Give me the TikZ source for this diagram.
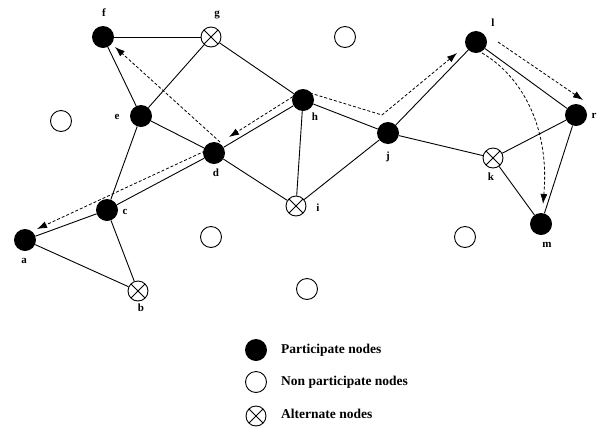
\documentclass[tikz,border=0pt]{standalone}
\usepackage{fontspec}
\setmainfont{Liberation Serif}
\usetikzlibrary{arrows.meta}
\begin{document}
\begin{tikzpicture}[x=1pt,y=-1pt,
  part/.style={circle,fill=black,minimum size=22pt,inner sep=0pt},
  nonpart/.style={circle,draw,line width=0.9pt,minimum size=21pt,inner sep=0pt},
  alt/.style={circle,draw,line width=0.9pt,minimum size=20pt,inner sep=0pt,
    path picture={\draw[line width=0.9pt] (path picture bounding box.north west) -- (path picture bounding box.south east)
      (path picture bounding box.north east) -- (path picture bounding box.south west);}},
  lbl/.style={font=\bfseries\fontsize{11}{13}\selectfont,inner sep=0pt},
  leg/.style={font=\bfseries\fontsize{13.5}{15}\selectfont,anchor=west,inner sep=0pt},
  edge/.style={line width=0.9pt},
  route/.style={densely dashed,line width=0.8pt,-{Latex[length=10pt,width=7pt]}}]
\useasboundingbox (0,0) rectangle (597,429);
% nodes
\node[part] (f) at (103,37) {};
\node[alt] (g) at (211,37) {};
\node[part] (e) at (141,116) {};
\node[part] (d) at (214,153) {};
\node[part] (h) at (303,100) {};
\node[part] (j) at (388,133) {};
\node[alt] (i) at (296,206) {};
\node[part] (c) at (107,210) {};
\node[part] (a) at (25,240) {};
\node[alt] (b) at (138,291) {};
\node[part] (l) at (476,42) {};
\node[part] (r) at (576,115) {};
\node[alt] (k) at (493,158) {};
\node[part] (m) at (541,224) {};
% non participate
\node[nonpart] (n1) at (345,37) {};
\node[nonpart] (n2) at (61,121) {};
\node[nonpart] (n3) at (211,237) {};
\node[nonpart] (n4) at (307,289) {};
\node[nonpart] (n5) at (465,237) {};
% labels
\node[lbl] (lf) at (104,13) {f};
\node[lbl] (lg) at (217,15) {g};
\node[lbl] (le) at (117,117) {e};
\node[lbl] (ld) at (216,173) {d};
\node[lbl] (lh) at (315,117) {h};
\node[lbl] (lj) at (388,157) {j};
\node[lbl] (ll) at (493,23) {l};
\node[lbl] (lr) at (594,116) {r};
\node[lbl] (lk) at (491,177) {k};
\node[lbl] (lm) at (547,245) {m};
\node[lbl] (li) at (318,208) {i};
\node[lbl] (lc) at (125,212) {c};
\node[lbl] (la) at (24,261) {a};
\node[lbl] (lb) at (141,308) {b};
% edges
\draw[edge] (f) -- (g);
\draw[edge] (f) -- (e);
\draw[edge] (g) -- (e);
\draw[edge] (g) -- (h);
\draw[edge] (e) -- (d);
\draw[edge] (e) -- (c);
\draw[edge] (d) -- (h);
\draw[edge] (d) -- (i);
\draw[edge] (d) -- (c);
\draw[edge] (h) -- (i);
\draw[edge] (h) -- (j);
\draw[edge] (i) -- (j);
\draw[edge] (c) -- (a);
\draw[edge] (c) -- (b);
\draw[edge] (a) -- (b);
\draw[edge] (j) -- (l);
\draw[edge] (j) -- (k);
\draw[edge] (l) -- (r);
\draw[edge] (k) -- (r);
\draw[edge] (k) -- (m);
\draw[edge] (r) -- (m);
% routes
\coordinate (s1) at (220,142);
\coordinate (t1) at (115,47);
\coordinate (s2) at (297,94);
\coordinate (t2) at (229,137);
\coordinate (s3) at (205,151);
\coordinate (t3) at (37,229);
\coordinate (s4) at (310,93);
\coordinate (k4) at (382,115);
\coordinate (t4) at (457,53);
\coordinate (s5) at (498,42);
\coordinate (t5) at (583,100);
\coordinate (s6) at (482,53);
\coordinate (t6) at (543,204);
\draw[route] (s1) -- (t1);
\draw[route] (s2) -- (t2);
\draw[route] (s3) -- (t3);
\draw[route] (s4) -- (k4) -- (t4);
\draw[route] (s5) -- (t5);
\draw[route] (s6) .. controls (520,75) and (550,125) .. (t6);
% legend
\node[part] (lp) at (256,350) {};
\node[nonpart] (ln) at (256,382) {};
\node[alt] (lalt) at (256,416) {};
\node[leg] (tp) at (281,350) {Participate nodes};
\node[leg] (tn) at (281,382) {Non participate nodes};
\node[leg] (ta) at (281,414) {Alternate nodes};
\end{tikzpicture}
\end{document}
